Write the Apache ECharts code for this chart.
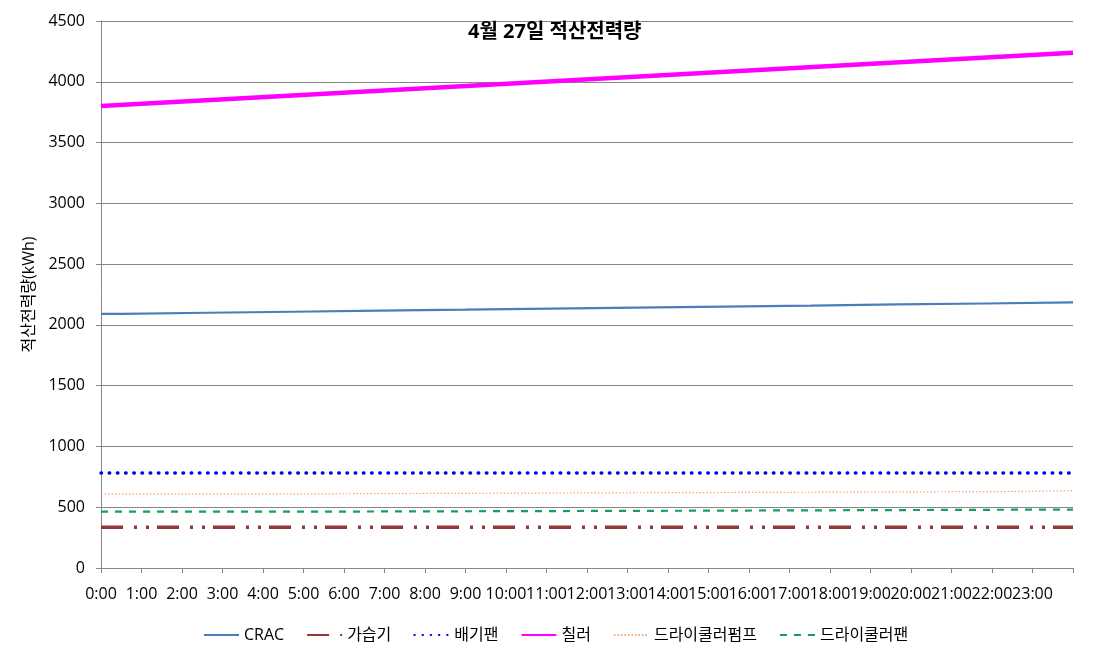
<!DOCTYPE html>
<html>
<head>
<meta charset="utf-8">
<script src="https://cdn.jsdelivr.net/npm/echarts@6/dist/echarts.min.js"></script>
<style>
  html,body{margin:0;padding:0;background:#fff;}
  #chart{width:1108px;height:654px;}
</style>
</head>
<body>
<div id="chart"></div>
<script>
// x축 눈금 라벨 (0:00 ~ 23:00, 24시는 라벨 없음)
const hourLabels = ['0:00','1:00','2:00','3:00','4:00','5:00','6:00','7:00','8:00','9:00','10:00','11:00',
  '12:00','13:00','14:00','15:00','16:00','17:00','18:00','19:00','20:00','21:00','22:00','23:00']

// 계단형 값: 변화 시각(시) / 값(kWh)
const cracHours = [0, 0.52, 2.63, 4.73, 6.87, 8.99, 11.1, 13.22, 15.37, 17.52, 19.66, 21.85, 24]
const cracValues = [2091, 2100, 2108, 2117, 2125, 2134, 2142, 2151, 2159, 2168, 2176, 2185, 2185]

const humidHours = [0, 24]
const humidValues = [335, 335]

const exhaustHours = [0, 24]
const exhaustValues = [781, 781]

const chillerHours = [0, 24]
const chillerValues = [3800, 4238]

const pumpHours = [0, 4.48, 10.38, 16.3, 22.27, 24]
const pumpValues = [609, 616, 622, 629, 636, 636]

const coolerFanHours = [0, 4.45, 14.2, 24]
const coolerFanValues = [463, 471, 481, 481]

const zip = (xs, ys) => xs.map((x, i) => [x, ys[i]])

const chart = echarts.init(document.getElementById('chart'))

const font = "'Open Sans', 'Noto Sans CJK KR', sans-serif"

const option = {
  animation: false,
  textStyle: { fontFamily: font },
  title: {
    text: '4월 27일 적산전력량',
    left: 463,
    top: 17,
    textStyle: { fontSize: 20, fontWeight: 'bold', color: '#000', fontFamily: font }
  },
  grid: { left: 101, right: 35, top: 21, bottom: 86 },
  legend: {
    left: 198,
    top: 622,
    itemWidth: 35,
    itemHeight: 12,
    itemGap: 22,
    itemStyle: { opacity: 0 },
    textStyle: { fontSize: 16, color: '#000', fontFamily: font },
    data: ['CRAC', '가습기', '배기팬', '칠러', '드라이쿨러펌프', '드라이쿨러팬']
  },
  xAxis: {
    type: 'value',
    min: 0,
    max: 24,
    interval: 1,
    axisLine: { lineStyle: { color: '#868686', width: 1 } },
    axisTick: { show: true, length: 5, lineStyle: { color: '#868686' } },
    splitLine: { show: false },
    axisLabel: {
      fontSize: 16,
      color: '#000',
      margin: 18,
      fontFamily: font,
      formatter: v => hourLabels[v] || ''
    }
  },
  yAxis: {
    type: 'value',
    min: 0,
    max: 4500,
    interval: 500,
    name: '적산전력량(kWh)',
    nameLocation: 'middle',
    nameRotate: 90,
    nameGap: 60,
    nameTextStyle: { fontSize: 16, color: '#000', fontFamily: font },
    axisLine: { show: true, lineStyle: { color: '#868686', width: 1 } },
    axisTick: { show: true, length: 5, lineStyle: { color: '#868686' } },
    splitLine: { lineStyle: { color: '#868686', width: 1 } },
    axisLabel: { fontSize: 16, color: '#000', margin: 16, fontFamily: font, formatter: v => String(v) }
  },
  series: [
    {
      name: 'CRAC', type: 'line', step: 'end', symbol: 'none',
      data: zip(cracHours, cracValues),
      lineStyle: { color: '#4A7EBB', width: 2.2 },
      itemStyle: { color: '#4A7EBB' }
    },
    {
      name: '가습기', type: 'line', symbol: 'none',
      data: zip(humidHours, humidValues),
      lineStyle: { color: '#953735', width: 3.5, type: [22, 11, 3, 9, 3, 8] },
      itemStyle: { color: '#953735' }
    },
    {
      name: '배기팬', type: 'line', symbol: 'none',
      data: zip(exhaustHours, exhaustValues),
      lineStyle: { color: '#0000FF', width: 3.5, type: [0.5, 7.7], cap: 'round' },
      itemStyle: { color: '#0000FF' }
    },
    {
      name: '칠러', type: 'line', symbol: 'none',
      data: zip(chillerHours, chillerValues),
      lineStyle: { color: '#FF00FF', width: 4.5 },
      itemStyle: { color: '#FF00FF' }
    },
    {
      name: '드라이쿨러펌프', type: 'line', step: 'end', symbol: 'none',
      data: zip(pumpHours, pumpValues),
      lineStyle: { color: '#F0A878', width: 1.2, type: [1.5, 2] },
      itemStyle: { color: '#F0A878' }
    },
    {
      name: '드라이쿨러팬', type: 'line', step: 'end', symbol: 'none',
      data: zip(coolerFanHours, coolerFanValues),
      lineStyle: { color: '#12A05A', width: 2.2, type: [7, 7] },
      itemStyle: { color: '#12A05A' }
    }
  ]
}

chart.setOption(option)
</script>
</body>
</html>
